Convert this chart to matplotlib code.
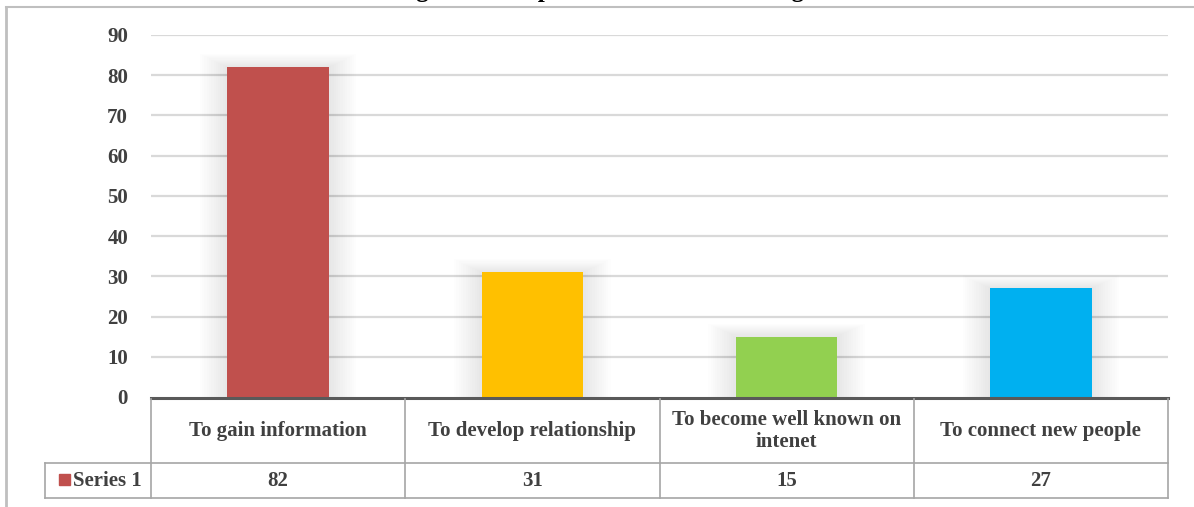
import matplotlib
matplotlib.use("Agg")
import matplotlib.pyplot as plt
from matplotlib.patches import Rectangle
from matplotlib.lines import Line2D

categories = ["To gain information", "To develop relationship",
              "To become well known on\nintenet", "To connect new people"]
values = [82, 31, 15, 27]
series_name = "Series 1"
bar_colors = ["#C0504D", "#FFC000", "#92D050", "#00B0F0"]
yticks = [0, 10, 20, 30, 40, 50, 60, 70, 80, 90]
title = "Figure 5: Purpose of social media usage"

W, H = 1194, 507
fig = plt.figure(figsize=(W / 100, H / 100), dpi=100)
FONT = "Liberation Serif"
TXT = "#404040"
FS = 15

def fx(px):
    return px / W

def fy(py):
    return 1 - py / H

# plot area
x0, x1 = 151, 1168
ytop, ybot = 35, 397
ax = fig.add_axes([fx(x0), fy(ybot), fx(x1 - x0), (ybot - ytop) / H])
ax.set_xlim(-0.5, len(values) - 0.5)
ax.set_ylim(0, 90)
for s in ax.spines.values():
    s.set_visible(False)
ax.set_xticks([])
ax.set_yticks(yticks)
ax.set_yticklabels([str(t) for t in yticks], fontfamily=FONT, fontweight="bold",
                   fontsize=15, color=TXT)
ax.tick_params(axis="y", length=0, pad=16.5)
for t in yticks[1:]:
    ax.axhline(t, color="#d9d9d9", lw=1.6, zorder=0)

# soft shadows
xs = range(len(values))
for i, v in zip(xs, values):
    for k in range(12):
        pad = 0.009 * (k + 1)
        ax.add_patch(Rectangle((i - 0.2 - pad, 0), 0.4 + 2 * pad, v + pad * 30,
                               color="#000000", alpha=0.007, lw=0, zorder=1))
ax.bar(list(xs), values, width=0.4, color=bar_colors, zorder=3)

# table
tl, trow, tbot = 45, 463, 498
cols = [x0 + (x1 - x0) * k / len(values) for k in range(len(values) + 1)]
grid = "#a6a6a6"
lines = []
lines.append(Line2D([fx(x0), fx(x1)], [fy(ybot + 1), fy(ybot + 1)], color="#595959", lw=2.2))
lines.append(Line2D([fx(tl), fx(x1)], [fy(trow), fy(trow)], color=grid, lw=1.2))
lines.append(Line2D([fx(tl), fx(x1)], [fy(tbot), fy(tbot)], color=grid, lw=1.2))
lines.append(Line2D([fx(tl), fx(tl)], [fy(trow), fy(tbot)], color=grid, lw=1.2))
for c in cols:
    lines.append(Line2D([fx(c), fx(c)], [fy(ybot + 2), fy(tbot)], color=grid, lw=1.2))
# outer frame
lines.append(Line2D([fx(6), fx(6)], [fy(7), 0], color="#bfbfbf", lw=2))
lines.append(Line2D([fx(6), 1], [fy(7), fy(7)], color="#bfbfbf", lw=1.5))
for l in lines:
    fig.add_artist(l)

for k, (cat, v) in enumerate(zip(categories, values)):
    cx = (cols[k] + cols[k + 1]) / 2
    fig.text(fx(cx), fy((ybot + trow) / 2 + 1), cat, ha="center", va="center",
             fontfamily=FONT, fontweight="bold", fontsize=FS, color=TXT,
             linespacing=1.15)
    fig.text(fx(cx), fy((trow + tbot) / 2 + 1), str(v), ha="center", va="center",
             fontfamily=FONT, fontweight="bold", fontsize=FS, color=TXT)

# legend key in table
fig.add_artist(Rectangle((fx(59), fy(485)), fx(11), 11 / H, color=bar_colors[0],
                         transform=fig.transFigure))
fig.text(fx(73), fy((trow + tbot) / 2 + 1), series_name, ha="left", va="center",
         fontfamily=FONT, fontweight="bold", fontsize=FS, color=TXT)

# cropped title (only descenders visible, as in the reference)
fig.text(fx(605), fy(-3.5), title, ha="center", va="baseline",
         fontfamily=FONT, fontweight="bold", fontsize=18, color="#000000")

fig.savefig("out.png", dpi=100)
